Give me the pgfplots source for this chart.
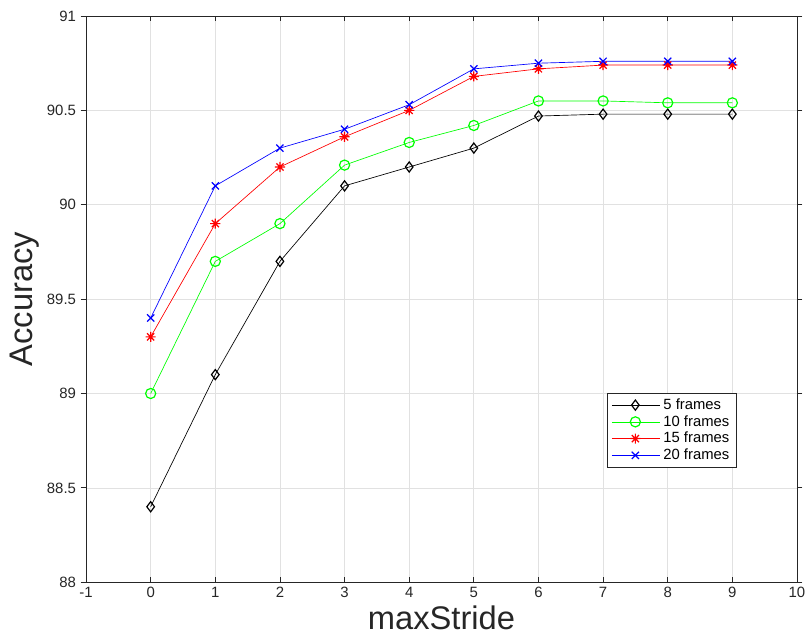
\documentclass[border=0pt]{standalone}
\usepackage{fontspec}
\setmainfont{Liberation Sans}
\usepackage{pgfplots}
\pgfplotsset{compat=1.18}
\definecolor{axgray}{RGB}{38,38,38}
\definecolor{gridgray}{RGB}{225,225,225}
% MATLAB-style '*' marker (plus + cross)
\pgfdeclareplotmark{mstar}{%
  \pgfpathmoveto{\pgfqpoint{-\pgfplotmarksize}{0pt}}\pgfpathlineto{\pgfqpoint{\pgfplotmarksize}{0pt}}%
  \pgfpathmoveto{\pgfqpoint{0pt}{-\pgfplotmarksize}}\pgfpathlineto{\pgfqpoint{0pt}{\pgfplotmarksize}}%
  \pgfpathmoveto{\pgfqpoint{-0.707\pgfplotmarksize}{-0.707\pgfplotmarksize}}\pgfpathlineto{\pgfqpoint{0.707\pgfplotmarksize}{0.707\pgfplotmarksize}}%
  \pgfpathmoveto{\pgfqpoint{-0.707\pgfplotmarksize}{0.707\pgfplotmarksize}}\pgfpathlineto{\pgfqpoint{0.707\pgfplotmarksize}{-0.707\pgfplotmarksize}}%
  \pgfusepathqstroke}
\begin{document}
\begin{tikzpicture}
\begin{axis}[
    name=ax,
    scale only axis,
    width=533pt, height=424.5pt,
    xmin=-1, xmax=10, ymin=88, ymax=91,
    xtick={-1,0,...,10},
    ytick={88,88.5,...,91},
    grid=major,
    grid style={gridgray, line width=0.5pt},
    axis line style={axgray, line width=0.6pt},
    xtick align=inside,
    ytick align=outside,
    major tick length=4pt,
    tick style={axgray, line width=0.6pt},
    ticklabel style={font=\fontsize{11.2}{13}\selectfont, text=axgray},
    /pgf/number format/assume math mode=true,
    /pgf/number format/.cd, fixed, /pgfplots/.cd,
    xlabel={maxStride}, ylabel={Accuracy},
    every axis x label/.style={at={(axis description cs:0.5,-0.062)}, anchor=center,
        font=\fontsize{24.5}{28}\selectfont, text=axgray},
    every axis y label/.style={at={(axis description cs:-0.086,0.5)}, rotate=90, anchor=center,
        font=\fontsize{24.5}{28}\selectfont, text=axgray},
    legend style={at={(axis description cs:0.733,0.334)}, anchor=north west,
        draw=axgray, line width=0.5pt, font=\fontsize{11.1}{12}\selectfont,
        inner xsep=3pt, inner ysep=2pt, row sep=-1pt, cells={anchor=west}},
    legend image code/.code={%
        \draw[mark repeat=2, mark phase=2, #1] plot coordinates {(0cm,0cm) (0.62cm,0cm) (1.28cm,0cm)};},
    every axis plot/.append style={line width=0.5pt, mark size=3.8pt, mark options={line width=0.9pt, solid, fill=none}},
]
\addplot[black, mark=diamond] coordinates {
    (0,88.4) (1,89.1) (2,89.7) (3,90.1) (4,90.2)
    (5,90.3) (6,90.47) (7,90.48) (8,90.48) (9,90.48)
};
\addlegendentry{5 frames}
\addplot[green, mark=o] coordinates {
    (0,89.0) (1,89.7) (2,89.9) (3,90.21) (4,90.33)
    (5,90.42) (6,90.55) (7,90.55) (8,90.54) (9,90.54)
};
\addlegendentry{10 frames}
\addplot[red, mark=mstar] coordinates {
    (0,89.3) (1,89.9) (2,90.2) (3,90.36) (4,90.5)
    (5,90.68) (6,90.72) (7,90.74) (8,90.74) (9,90.74)
};
\addlegendentry{15 frames}
\addplot[blue, mark=x] coordinates {
    (0,89.4) (1,90.1) (2,90.3) (3,90.4) (4,90.53)
    (5,90.72) (6,90.75) (7,90.76) (8,90.76) (9,90.76)
};
\addlegendentry{20 frames}
\end{axis}
\pgfresetboundingbox
\path ([xshift=-64.5pt, yshift=-39.75pt]ax.south west) rectangle ([xshift=8.25pt, yshift=12pt]ax.north east);
\end{tikzpicture}
\end{document}
